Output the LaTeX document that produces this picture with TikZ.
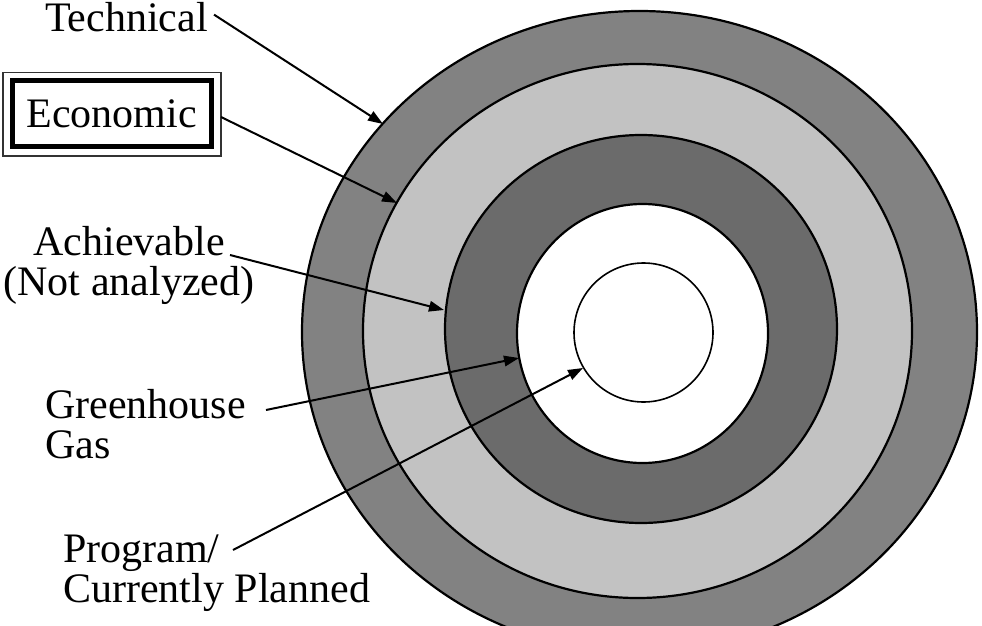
\documentclass[tikz,border=0pt]{standalone}
\usepackage{fontspec}
\setmainfont{Liberation Serif}
\usetikzlibrary{arrows.meta}
\definecolor{ringouter}{gray}{0.51}
\definecolor{ringlight}{gray}{0.76}
\definecolor{ringdark}{gray}{0.42}
\tikzset{
  lbl/.style={inner sep=0pt, font=\fontsize{42}{40}\selectfont},
  ptr/.style={line width=2pt, -{Triangle[length=15pt,width=10.5pt]}},
  ringline/.style={line width=2.2pt, draw=black},
}
\begin{document}
\begin{tikzpicture}[x=1pt,y=-1pt]
\useasboundingbox (0,0) rectangle (982,626);
\fill[white] (0,0) rectangle (982,626);
\begin{scope}
\clip (0,0) rectangle (982,626);
\filldraw[ringline, fill=ringouter] (639.5,332) ellipse [x radius=337.5, y radius=321];
\filldraw[ringline, fill=ringlight] (637.5,331) ellipse [x radius=274.5, y radius=267];
\filldraw[ringline, fill=ringdark] (641,329) ellipse [x radius=196, y radius=194];
\filldraw[ringline, fill=white] (642.5,333.5) ellipse [x radius=125.5, y radius=129.5];
\filldraw[line width=1.6pt, draw=black, fill=white] (643.5,332.5) circle [radius=69.5];
\end{scope}
% arrow targets on the rings
\coordinate (tTech) at (383,124);
\coordinate (tEcon) at (397,203);
\coordinate (tAch) at (444,310);
\coordinate (tGhg) at (519,358);
\coordinate (tProg) at (583,368);
% labels
\node[lbl, anchor=base west] (tech) at (45,32) {Technical};
\node[lbl, draw, line width=5pt, minimum width=199.5pt, minimum height=66pt] (econ) at (111.75,113.5) {Economic};
\draw[line width=1.4pt, draw=black!80] ([shift={(-6.5,-5.5)}]econ.north west) rectangle ([shift={(7,7)}]econ.south east);
\node[lbl, align=center, anchor=north] (ach) at (129,226) {Achievable\\(Not analyzed)};
\node[lbl, align=left, anchor=north west] (ghg) at (45,389) {Greenhouse\\Gas};
\node[lbl, align=left, anchor=north west] (prog) at (63,535) {Program/\\Currently Planned};
% connectors
\draw[ptr] ([shift={(6,-3)}]tech.east) -- (tTech);
\draw[ptr] ([shift={(7,3.5)}]econ.east) -- (tEcon);
\draw[ptr] ([shift={(101,29)}]ach.north) -- (tAch);
\draw[ptr] ([shift={(20,21)}]ghg.north east) -- (tGhg);
\draw[ptr] ([shift={(170,15)}]prog.north west) -- (tProg);
\end{tikzpicture}
\end{document}
